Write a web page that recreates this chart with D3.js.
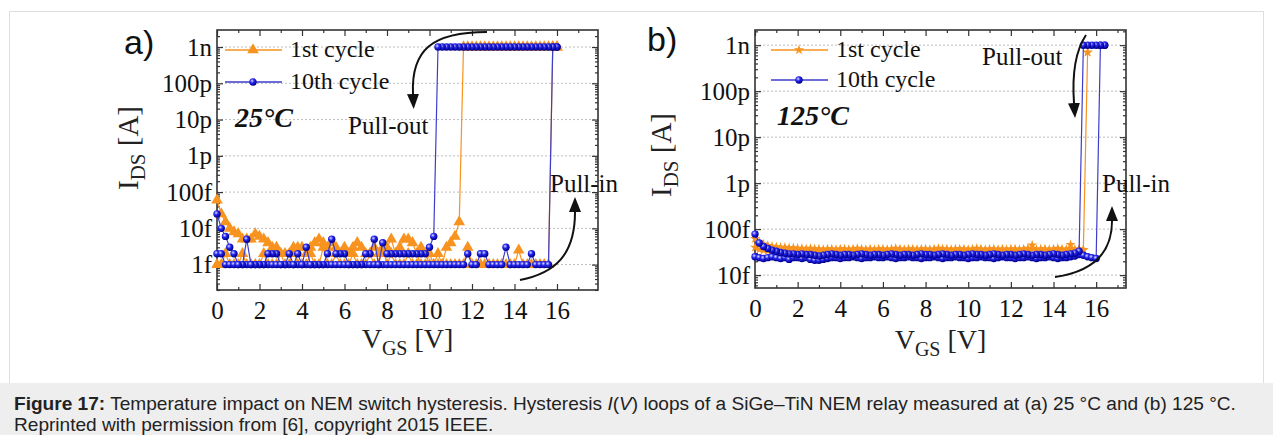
<!DOCTYPE html>
<html>
<head>
<meta charset="utf-8">
<script src="https://cdnjs.cloudflare.com/ajax/libs/d3/7.8.5/d3.min.js"></script>
<style>
  body { margin: 0; background: #fff; }
  svg { display: block; }
</style>
</head>
<body>
<svg id="chart" width="1273" height="435"></svg>
<script>
// sweep step of the measurement [V]; currents below are in fA
const STEP = 0.2;

// (a) 25 °C — 1st cycle: up sweep from 0 V, down sweep from 16 V
const a1Up = [
  1,1,2,1,1,1,2,1,1,1,
  1,2,1,1,1,2,1,1,3,1,
  1,1,2,1,1,3,1,1,2,1,
  1,1,2,1,1,1,2,1,1,3,
  1,2,1,1,1,2,1,1,3,2,
  1,1,1,1,1,1,1,1,1,3,
  1,1,1,1,1,1,1,1,1,1,
  1,2.5,1,1,1,1,1,1,1,1e6,
  1e6];
const a1Down = [
  1e6,1e6,1e6,1e6,1e6,1e6,1e6,1e6,1e6,1e6,1e6,1e6,
  1e6,1e6,1e6,1e6,1e6,1e6,1e6,1e6,1e6,1e6,1e6,
  15,6,4,3,1,2,1,2,1,1,
  2,4,5,5,3,2,5,3,2,2,
  3,2,2,3,4,3,2,3,2,3,
  4,3,4,5,4,3,2,3,3,2,
  2,2,2,3,3,4,5,6,7,5,
  5,5,7,8,10,15,25,60];
// (a) 25 °C — 10th cycle
const a10Up = [
  2,2,1,1,1,1,1,1,1,1,
  1,1,1,1,1,1,1,1,1,1,
  1,1,1,1,1,1,1,1,1,1,
  1,1,1,1,1,1,1,1,1,1,
  1,1,1,1,1,1,1,1,1,1,
  1,1,1,1,1,1,1,1,1,2,
  1,1,2,2,1,1,1,1,3,1,
  1,1,1,1,2,1,1,1,1,1e6,
  1e6];
const a10Down = [
  1e6,1e6,1e6,1e6,1e6,1e6,1e6,1e6,1e6,1e6,1e6,1e6,1e6,1e6,1e6,
  1e6,1e6,1e6,1e6,1e6,1e6,1e6,1e6,1e6,1e6,1e6,1e6,1e6,1e6,
  6,3,2,2,2,2,2,2,2,2,2,2,
  4,1,5,2,2,1,1,1,1,2,
  2,2,5,2,1,1,1,1,3,1,
  2,1,2,1,1,2,2,2,1,1,
  1,1,5,1,1,2,3,6,10,25];

// (b) 125 °C — 1st cycle: up sweep from 0 V, down sweep from 15.6 V
const b1Up = [
  40,36,35,34,35,34,35,34,35,34,
  35,34,34,35,34,35,34,35,34,34,
  35,34,35,34,34,35,34,35,34,35,
  34,35,34,34,35,34,35,34,35,34,
  35,34,34,35,34,35,34,34,35,34,
  34,35,34,35,34,34,35,34,35,34,
  35,34,34,35,34,45,35,34,35,34,
  34,35,34,35,46,35,34,35,
  7e5];
const b1Down = [
  7e5,
  36,37,36,37,36,37,38,37,36,37,
  37,36,37,38,37,36,37,37,36,37,
  36,37,37,36,37,38,37,36,37,37,
  37,36,37,37,38,37,36,37,37,36,
  37,37,36,37,38,37,36,37,37,36,
  37,36,37,38,37,36,37,37,36,37,
  37,36,37,37,38,37,38,38,39,39,
  40,40,41,42,44,47,52,62];
// (b) 125 °C — 10th cycle: up sweep from 0 V, down sweep from 16.4 V
const b10Up = [
  25,24,23,24,25,24,23,24,22,24,
  24,23,24,22,21,21,22,23,24,24,
  23,24,24,25,24,23,24,24,25,24,
  24,25,24,23,24,24,25,24,24,23,
  24,24,25,24,23,24,24,25,24,24,
  23,24,24,25,24,24,23,24,25,24,
  24,23,24,24,25,24,23,24,24,25,
  24,23,24,24,25,26,28,27,25,24,
  23,1e6,1e6];
const b10Down = [
  1e6,1e6,1e6,1e6,1e6,1e6,
  33,30,29,28,27,28,29,28,27,28,
  28,27,28,29,28,27,28,28,27,28,
  29,28,27,28,28,29,28,27,28,28,
  27,28,29,28,27,28,28,29,28,27,
  28,28,27,28,29,28,27,28,28,27,
  28,29,28,27,28,28,27,28,29,28,
  27,26,27,28,28,29,28,29,29,30,
  31,33,35,38,42,50,78];

const seriesNames = ["1st cycle", "10th cycle"];
const xTickValues = [0, 2, 4, 6, 8, 10, 12, 14, 16];
const aYTickValues = [1e-15, 1e-14, 1e-13, 1e-12, 1e-11, 1e-10, 1e-9];
const aYTickLabels = ["1f", "10f", "100f", "1p", "10p", "100p", "1n"];
const bYTickValues = [1e-14, 1e-13, 1e-12, 1e-11, 1e-10, 1e-9];
const bYTickLabels = ["10f", "100f", "1p", "10p", "100p", "1n"];

const ORANGE = "#f7931e";
const BLUE_LINE = "#3d3dcc";
const SERIF = "'Liberation Serif','Times New Roman',serif";
const SANS = "'Liberation Sans',Arial,sans-serif";

function sweep(start, dir, vals) {
  return vals.map((c, i) => ({ v: +(start + dir * i * STEP).toFixed(2), c: c * 1e-15 }));
}

const svg = d3.select("#chart");
const defs = svg.append("defs");

const grad = defs.append("radialGradient").attr("id", "ball")
  .attr("cx", "38%").attr("cy", "35%").attr("r", "62%");
grad.append("stop").attr("offset", "0%").attr("stop-color", "#dcdcff");
grad.append("stop").attr("offset", "45%").attr("stop-color", "#2626ee");
grad.append("stop").attr("offset", "100%").attr("stop-color", "#000090");

defs.append("marker").attr("id", "arrow")
  .attr("viewBox", "0 -6 15 12").attr("refX", 0).attr("refY", 0)
  .attr("markerWidth", 15).attr("markerHeight", 12)
  .attr("markerUnits", "userSpaceOnUse").attr("orient", "auto")
  .append("path").attr("d", "M0,-6L15,0L0,6Z").attr("fill", "#111");

// page frame + caption box
svg.append("rect").attr("x", 9.5).attr("y", 11.5).attr("width", 1254).attr("height", 372)
  .attr("fill", "none").attr("stroke", "#dedede");
svg.append("rect").attr("x", 0).attr("y", 383).attr("width", 1273).attr("height", 52)
  .attr("fill", "#eeeeee");

const panels = [
  {
    tag: "a)", tagX: 124, tagY: 54,
    box: { x0: 217, x1: 598, y0: 30, y1: 290 }, xMax: 17.93, yExp: [-15.7, -8.53],
    yTicks: aYTickValues, yLabels: aYTickLabels,
    orange: sweep(0, 1, a1Up).concat(sweep(16, -1, a1Down)),
    blue: sweep(0, 1, a10Up).concat(sweep(16, -1, a10Down)),
    orangeMark: "tri",
    legend: { x: 225, y: [50, 82] },
    temp: "25°C", tempX: 235, tempY: 127,
    yLabel: { x: 138, y: 148 }, xLabelY: 348,
    notes: [
      { text: "Pull-out", x: 348, y: 134 },
      { text: "Pull-in", x: 550, y: 192 }
    ],
    arrows: ["M487,32 C432,32 411,50 413,94", "M520,280 C556,273 575,254 575,212"]
  },
  {
    tag: "b)", tagX: 647, tagY: 51,
    box: { x0: 755, x1: 1126, y0: 30, y1: 288 }, xMax: 17.4, yExp: [-14.28, -8.67],
    yTicks: bYTickValues, yLabels: bYTickLabels,
    orange: sweep(0, 1, b1Up).concat(sweep(15.6, -1, b1Down)),
    blue: sweep(0, 1, b10Up).concat(sweep(16.4, -1, b10Down)),
    orangeMark: "star",
    legend: { x: 771, y: [50, 80] },
    temp: "125°C", tempX: 777, tempY: 125,
    yLabel: { x: 671, y: 155 }, xLabelY: 349,
    notes: [
      { text: "Pull-out", x: 982, y: 65 },
      { text: "Pull-in", x: 1102, y: 192 }
    ],
    arrows: ["M1086,35 C1076,50 1072,75 1074,103", "M1055,277 C1090,272 1112,256 1112,221"]
  }
];

function logMinor(y) {
  const [lo, hi] = y.domain();
  const out = [];
  for (let e = Math.floor(Math.log10(lo)); e <= Math.ceil(Math.log10(hi)); e++) {
    for (let m = 2; m <= 9; m++) {
      const v = m * Math.pow(10, e);
      if (v > lo && v < hi) out.push(v);
    }
  }
  return out;
}

function drawMarkers(g, pts, kind, x, y) {
  if (kind === "ball") {
    g.selectAll(null).data(pts).enter().append("circle")
      .attr("cx", d => x(d.v)).attr("cy", d => y(d.c)).attr("r", 3.7)
      .attr("fill", "url(#ball)");
  } else {
    const sym = kind === "tri"
      ? d3.symbol().type(d3.symbolTriangle).size(58)
      : d3.symbol().type(d3.symbolStar).size(32);
    g.selectAll(null).data(pts).enter().append("path")
      .attr("d", sym)
      .attr("transform", d => `translate(${x(d.v)},${y(d.c)})`)
      .attr("fill", ORANGE);
  }
}

function styleAxis(sel) {
  sel.select(".domain").remove();
  sel.selectAll("line").attr("stroke", "#333").attr("stroke-width", 1.2);
  sel.selectAll("text").attr("font-family", SERIF).attr("font-size", 25).attr("fill", "#111");
}

function drawPanel(p) {
  const b = p.box;
  const x = d3.scaleLinear().domain([0, p.xMax]).range([b.x0, b.x1]);
  const y = d3.scaleLog().domain([Math.pow(10, p.yExp[0]), Math.pow(10, p.yExp[1])]).range([b.y1, b.y0]);
  const g = svg.append("g");

  g.selectAll(".grid").data(p.yTicks).enter().append("line")
    .attr("x1", b.x0).attr("x2", b.x1)
    .attr("y1", d => y(d)).attr("y2", d => y(d))
    .attr("stroke", "#bdbdbd").attr("stroke-width", 1).attr("stroke-dasharray", "2,2");

  const minorY = logMinor(y);
  const minorX = d3.range(1, p.xMax, 2);

  // major + minor ticks on all four sides, pointing inward
  g.append("g").attr("transform", `translate(${b.x0},0)`)
    .call(d3.axisLeft(y).tickValues(p.yTicks).tickFormat((d, i) => p.yLabels[i]).tickSize(-6).tickPadding(5))
    .call(styleAxis);
  g.append("g").attr("transform", `translate(${b.x0},0)`)
    .call(d3.axisLeft(y).tickValues(minorY).tickFormat("").tickSize(-3)).call(styleAxis);
  g.append("g").attr("transform", `translate(${b.x1},0)`)
    .call(d3.axisRight(y).tickValues(p.yTicks).tickFormat("").tickSize(-6)).call(styleAxis);
  g.append("g").attr("transform", `translate(${b.x1},0)`)
    .call(d3.axisRight(y).tickValues(minorY).tickFormat("").tickSize(-3)).call(styleAxis);
  g.append("g").attr("transform", `translate(0,${b.y1})`)
    .call(d3.axisBottom(x).tickValues(xTickValues).tickFormat(d3.format("d")).tickSize(-6).tickPadding(11))
    .call(styleAxis);
  g.append("g").attr("transform", `translate(0,${b.y1})`)
    .call(d3.axisBottom(x).tickValues(minorX).tickFormat("").tickSize(-3)).call(styleAxis);
  g.append("g").attr("transform", `translate(0,${b.y0})`)
    .call(d3.axisTop(x).tickValues(xTickValues).tickFormat("").tickSize(-6)).call(styleAxis);
  g.append("g").attr("transform", `translate(0,${b.y0})`)
    .call(d3.axisTop(x).tickValues(minorX).tickFormat("").tickSize(-3)).call(styleAxis);

  g.append("rect").attr("x", b.x0).attr("y", b.y0)
    .attr("width", b.x1 - b.x0).attr("height", b.y1 - b.y0)
    .attr("fill", "none").attr("stroke", "#333").attr("stroke-width", 1.6);

  const line = d3.line().x(d => x(d.v)).y(d => y(d.c));
  g.append("path").datum(p.orange).attr("d", line)
    .attr("fill", "none").attr("stroke", ORANGE).attr("stroke-width", 1.2);
  drawMarkers(g.append("g"), p.orange, p.orangeMark, x, y);
  g.append("path").datum(p.blue).attr("d", line)
    .attr("fill", "none").attr("stroke", BLUE_LINE).attr("stroke-width", 1.2);
  drawMarkers(g.append("g"), p.blue, "ball", x, y);

  // legend
  const kinds = [p.orangeMark, "ball"];
  const colors = [ORANGE, BLUE_LINE];
  seriesNames.forEach((name, i) => {
    const ly = p.legend.y[i], lx = p.legend.x;
    g.append("line").attr("x1", lx).attr("x2", lx + 57).attr("y1", ly).attr("y2", ly)
      .attr("stroke", colors[i]).attr("stroke-width", 1.6);
    const mk = g.append("g");
    drawMarkers(mk, [{ v: 0, c: 0 }], kinds[i], () => lx + 28, () => ly);
    g.append("text").attr("x", lx + 65).attr("y", ly + 7)
      .attr("font-family", SERIF).attr("font-size", 24).attr("fill", "#111").text(name);
  });

  g.append("text").attr("x", p.tempX).attr("y", p.tempY)
    .attr("font-family", SERIF).attr("font-size", 28).attr("font-weight", "bold")
    .attr("font-style", "italic").attr("fill", "#111").text(p.temp);

  p.notes.forEach(n => {
    g.append("text").attr("x", n.x).attr("y", n.y)
      .attr("font-family", SERIF).attr("font-size", 25).attr("fill", "#111").text(n.text);
  });
  p.arrows.forEach(d => {
    g.append("path").attr("d", d).attr("fill", "none")
      .attr("stroke", "#111").attr("stroke-width", 2).attr("marker-end", "url(#arrow)");
  });

  g.append("text").attr("x", p.tagX).attr("y", p.tagY)
    .attr("font-family", SANS).attr("font-size", 34).attr("fill", "#111").text(p.tag);

  // axis titles
  const yl = g.append("text")
    .attr("transform", `translate(${p.yLabel.x},${p.yLabel.y}) rotate(-90)`)
    .attr("text-anchor", "middle").attr("font-family", SERIF).attr("font-size", 29).attr("fill", "#222");
  yl.append("tspan").text("I");
  yl.append("tspan").attr("font-size", 21).attr("dy", 7).text("DS");
  yl.append("tspan").attr("dy", -7).text(" [A]");

  const xl = g.append("text")
    .attr("x", (b.x0 + b.x1) / 2).attr("y", p.xLabelY)
    .attr("text-anchor", "middle").attr("font-family", SERIF).attr("font-size", 28).attr("fill", "#222");
  xl.append("tspan").text("V");
  xl.append("tspan").attr("font-size", 20).attr("dy", 7).text("GS");
  xl.append("tspan").attr("dy", -7).text(" [V]");
}

panels.forEach(drawPanel);

// caption
const cap1 = svg.append("text").attr("x", 14).attr("y", 410)
  .attr("font-family", SANS).attr("font-size", 16).attr("fill", "#222");
cap1.append("tspan").attr("font-weight", "bold").text("Figure 17:");
cap1.append("tspan").text(" Temperature impact on NEM switch hysteresis. Hysteresis ");
cap1.append("tspan").attr("font-style", "italic").text("I");
cap1.append("tspan").text("(");
cap1.append("tspan").attr("font-style", "italic").text("V");
cap1.append("tspan").text(") loops of a SiGe\u2013TiN NEM relay measured at (a) 25 \u00b0C and (b) 125 \u00b0C.");
const cap2 = svg.append("text").attr("x", 14).attr("y", 431)
  .attr("font-family", SANS).attr("font-size", 16).attr("fill", "#222")
  .text("Reprinted with permission from [6], copyright 2015 IEEE.");

// fit the caption's first line to the width it takes in the figure
const len = cap1.node().getComputedTextLength();
const fs = 16 * 1223 / len;
cap1.attr("font-size", fs);
cap2.attr("font-size", fs);
</script>
</body>
</html>
